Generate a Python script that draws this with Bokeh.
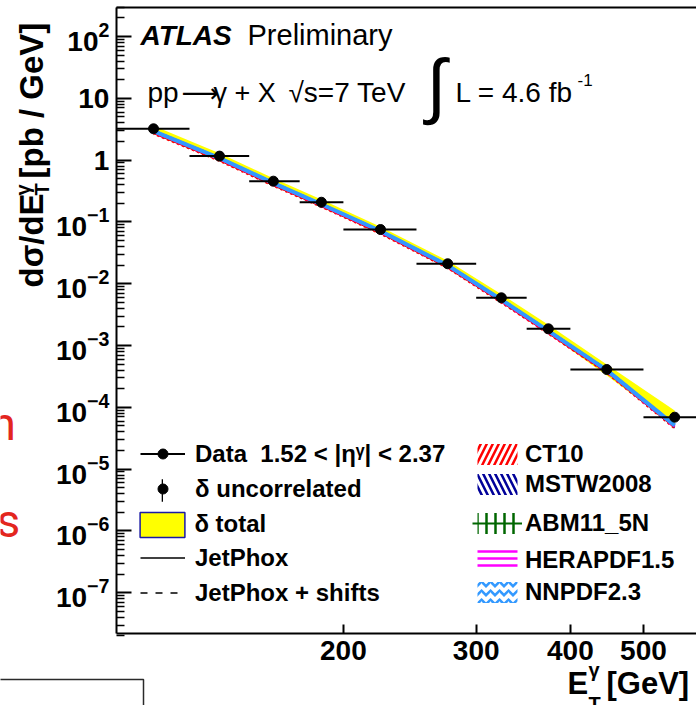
import math
from bokeh.plotting import figure
from bokeh.models import (Range1d, FixedTicker, Label, Legend, LegendItem, LogAxis,
                          BoxAnnotation, ColumnDataSource)
from bokeh.embed import file_html
from bokeh.resources import INLINE

# ---------------- data ----------------
# photon transverse-energy bins [GeV] and mean E_T in each bin
et_lo = [100, 125, 150, 175, 200, 250, 300, 350, 400, 500]
et_hi = [125, 150, 175, 200, 250, 300, 350, 400, 500, 600]
et_mean = [112, 137, 161.5, 187, 224, 275, 324, 374, 447, 550]

# measured dsigma/dE_T [pb/GeV], 1.52 < |eta| < 2.37
xsec = [3.21, 1.16, 0.456, 0.208, 0.0753, 0.0210, 0.00591, 0.00186, 4.09e-4, 6.92e-5]
# relative uncertainties of the measurement
unc_uncorr = [0.01, 0.01, 0.01, 0.015, 0.015, 0.02, 0.03, 0.04, 0.05, 0.08]
unc_total = [0.12, 0.11, 0.11, 0.11, 0.11, 0.12, 0.14, 0.17, 0.20, 0.28]

# JetPhox NLO predictions [pb/GeV] for each PDF set
ct10 = [2.74, 1.00, 0.395, 0.180, 0.0662, 0.0184, 0.00512, 0.00160, 3.72e-4, 4.74e-5]
mstw = [2.89, 1.06, 0.417, 0.189, 0.0698, 0.0194, 0.00539, 0.00169, 3.92e-4, 5.00e-5]
abm = [2.92, 1.07, 0.421, 0.191, 0.0705, 0.0196, 0.00545, 0.00170, 3.96e-4, 5.05e-5]
hera = [2.83, 1.04, 0.408, 0.185, 0.0684, 0.0190, 0.00528, 0.00165, 3.84e-4, 4.90e-5]
nnpdf = [2.95, 1.08, 0.425, 0.193, 0.0712, 0.0198, 0.00550, 0.00172, 4.00e-4, 5.10e-5]
jetphox = ct10
jetphox_shifted = [2.95, 1.08, 0.425, 0.193, 0.0712, 0.0198, 0.00550, 0.00172, 4.00e-4, 5.10e-5]
# relative theory (scale) uncertainty
unc_theory = [0.07, 0.07, 0.07, 0.07, 0.07, 0.07, 0.08, 0.08, 0.08, 0.09]

# axis ticks
y_major = [1e-7, 1e-6, 1e-5, 1e-4, 1e-3, 1e-2, 1e-1, 1, 10, 100]
x_major = [200, 300, 400, 500]
x_tick_labels = ["200", "300", "400", "500"]

FONT = "Liberation Sans"
W, H = 696, 705

# the plotting frame covers the whole canvas; the axes are pinned to the
# edges of the histogram box
X_LO, X_HI = 100, 600          # E_T extent of the box
Y_LO, Y_HI = 2.19e-8, 294      # cross-section extent of the box


def sx(xc):
    return xc


def sy(yc):
    return H - yc


p = figure(width=W, height=H, x_axis_type="log", y_axis_type="log",
           x_range=Range1d(70.19, 587.9), y_range=Range1d(1.495e-9, 382.4),
           output_backend="svg", toolbar_location=None,
           min_border_left=0, min_border_right=0, min_border_top=0,
           min_border_bottom=0)
p.outline_line_color = None
p.grid.visible = False

# ---------------- axes ----------------
xa = p.below[0]
ya = p.left[0]
y_minor = [m * t for t in [1e-8] + y_major for m in range(2, 10)]
ya.ticker = FixedTicker(ticks=y_major, minor_ticks=y_minor)
ya.major_label_overrides = {1: "1", 10: "10"}
ya.fixed_location = X_LO
ya.bounds = (Y_LO, Y_HI)
xa.ticker = FixedTicker(ticks=x_major, minor_ticks=[])
xa.major_label_overrides = dict(zip(x_major, x_tick_labels))
xa.fixed_location = Y_LO
xa.bounds = (X_LO, X_HI)
top_axis = LogAxis(fixed_location=Y_HI, bounds=(X_LO, X_HI),
                   ticker=FixedTicker(ticks=[], minor_ticks=[]),
                   major_label_text_font_size="0px")
p.add_layout(top_axis, "above")
for ax in (xa, ya, top_axis):
    ax.axis_line_width = 2
    ax.axis_line_color = "black"
    ax.major_tick_out = 0
    ax.minor_tick_out = 0
    ax.major_tick_line_width = 2
    ax.minor_tick_line_width = 1.5
    ax.major_label_text_font = FONT
    ax.major_label_text_font_style = "bold"
    ax.major_label_text_color = "black"
for ax in (xa, ya):
    ax.major_label_text_font_size = "28px"
ya.major_tick_in = 15
ya.minor_tick_in = 8
ya.major_label_standoff = 7
xa.major_tick_in = 9
xa.major_label_standoff = 8

# ---------------- marks ----------------
src = ColumnDataSource(dict(
    x=et_mean, lo=et_lo, hi=et_hi, y=xsec,
    y_up=[v * (1 + u) for v, u in zip(xsec, unc_total)],
    y_dn=[v * (1 - u) for v, u in zip(xsec, unc_total)],
    h_unc=[2 * v * u for v, u in zip(xsec, unc_uncorr)],
))

p.varea(x="x", y1="y_dn", y2="y_up", source=src, fill_color="#ffff00")

jp_line = p.line(et_mean, jetphox, line_color="black", line_width=1.5)
jp_shift = p.line(et_mean, jetphox_shifted, line_color="black", line_width=1.5,
                  line_dash="7 8")

pdf_sets = [
    ("CT10", ct10, "#ff0000", "/", 12),
    ("MSTW2008", mstw, "#000099", "\\", 12),
    ("ABM11_5N", abm, "#006600", "|", 9),
    ("HERAPDF1.5", hera, "#ff00ff", "-", 7),
    ("NNPDF2.3", nnpdf, "#3399ff", "v", 9),
]
band_r, line_r = {}, {}
for name, vals, col, hatch, scale in pdf_sets:
    band_r[name] = p.varea(
        x=et_mean,
        y1=[v * (1 - u) for v, u in zip(vals, unc_theory)],
        y2=[v * (1 + u) for v, u in zip(vals, unc_theory)],
        fill_alpha=0, hatch_pattern=hatch, hatch_color=col,
        hatch_weight=2.5, hatch_scale=scale)
for name, vals, col, hatch, scale in pdf_sets:
    line_r[name] = p.line(et_mean, vals, line_color=col,
                          line_width=4 if name == "NNPDF2.3" else 2)

err_h = p.segment(x0="lo", x1="hi", y0="y", y1="y", source=src,
                  line_color="black", line_width=2)
err_v = p.rect(x="x", y="y", width=2, width_units="screen", height="h_unc",
               source=src, fill_color="black", line_color=None)
dots = p.scatter(x="x", y="y", source=src, size=10, marker="circle",
                 fill_color="black", line_color="black")
# legend swatch for the total uncertainty (zero-size boxes at the data points)
tot_box = p.rect(x="x", y="y", width=0, height=0, width_units="screen",
                 height_units="screen", source=src, fill_color="#ffff00",
                 line_color="#1a1aa6", line_width=1.5)


# ---------------- legend ----------------
def entry(renderers, label, gx, gy, gw, gh, text_x):
    leg = Legend(items=[LegendItem(label=label, renderers=renderers)],
                 location=(sx(gx), sy(gy + gh / 2)),
                 glyph_width=round(gw), glyph_height=round(gh), label_height=round(gh),
                 label_standoff=round(text_x - (gx + gw)),
                 padding=0, margin=0, spacing=0,
                 border_line_color=None, background_fill_alpha=0,
                 label_text_font=FONT, label_text_font_style="bold",
                 label_text_font_size="24px", label_text_color="black")
    p.add_layout(leg)


entry([err_h, dots], "Data  1.52 < |η\u1d5e| < 2.37", 140, 455, 45, 25, 195)
entry([err_v], " ", 161, 490, 2.5, 27.5, 200)
entry([dots], "δ uncorrelated", 150, 490, 25, 25, 195)
entry([tot_box], "δ total", 134.4, 524, 56.25, 31.25, 195)
entry([jp_line], "JetPhox", 140, 559, 45, 25, 195)
entry([jp_shift], "JetPhox + shifts", 140, 594, 45, 25, 195)
for (name, *_), cy in zip(pdf_sets, [454.5, 485, 523.5, 561, 592.5]):
    rs = [band_r[name]]
    if name == "ABM11_5N":
        rs.append(line_r[name])
    entry(rs, name, 472, cy, 50, 26.25, 525)


# ---------------- texts ----------------
# a Label's anchor sits about 0.357 em below the glyph baseline, so the
# helper shifts by that amount to put the baseline at the given point
def text(t, xc, yc, size=28, style="normal", angle=0.0, color="black",
         font=FONT):
    drop = 0.357 * size
    if angle:
        xc -= drop
    else:
        yc -= drop
    p.add_layout(Label(x=sx(xc), y=sy(yc), x_units="screen", y_units="screen",
                       text=t, text_font=font, text_font_size=f"{size}px",
                       text_font_style=style, text_color=color, angle=angle,
                       text_align="left", text_baseline="alphabetic"))


text("ATLAS", 140, 45, style="bold italic")
text("Preliminary", 247, 45, size=29)
text("pp", 147, 102)
text("⟶", 181, 102, font="DejaVu Sans", size=26)
text("γ + X", 213, 102, size=27)
text("√s=7 TeV", 288, 102)
text("∫", 426, 110, size=72)
text("L = 4.6 fb", 455, 102)
text("-1", 577, 86, size=17)

# x-axis title
text("E", 567, 694, size=31, style="bold")
text("γ", 588, 677, size=20, style="bold")
text("T", 588, 711, size=20, style="bold")
text("[GeV]", 606, 694, size=31, style="bold")

# y-axis title (reads bottom to top)
up = math.pi / 2
text("dσ/dE", 43, 287, size=33, style="bold", angle=up)
text("T", 49, 195, size=20, style="bold", angle=up)
text("γ", 30, 195, size=20, style="bold", angle=up)
text("[pb / GeV]", 43, 178, size=33, style="bold", angle=up)

# fragments at the left edge
text("n", -10, 440, size=46, color="#e3261e", font="Roboto")
text("s", -4, 537, size=46, color="#e3261e", font="Roboto")
p.add_layout(BoxAnnotation(left=-20, right=sx(143), top=sy(679), bottom=-20,
                           left_units="screen", right_units="screen",
                           top_units="screen", bottom_units="screen",
                           fill_alpha=0, line_color="#2a2a2a", line_alpha=1,
                           line_width=1.5))

open("out.html", "w").write(file_html(p, INLINE))
